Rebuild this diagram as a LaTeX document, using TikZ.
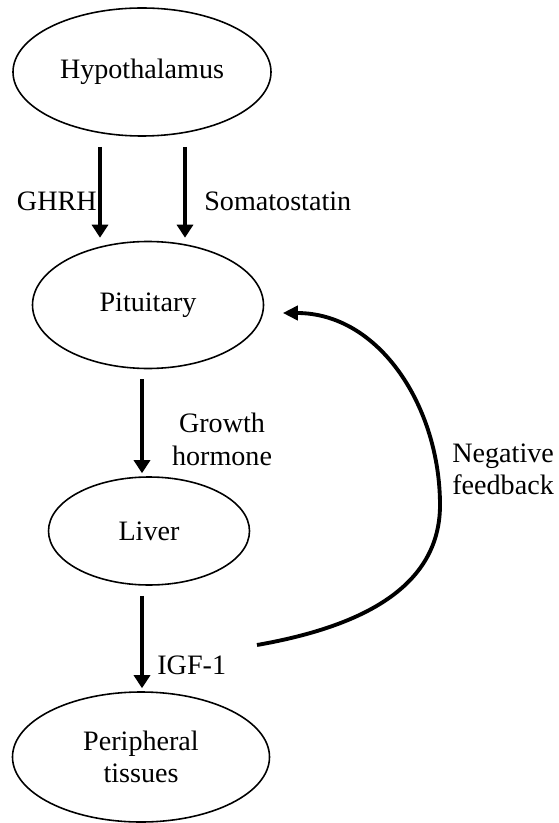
\documentclass[tikz,border=0pt]{standalone}
\usepackage{fontspec}
\setmainfont{Liberation Serif}
\usetikzlibrary{arrows.meta,shapes.geometric}

\begin{document}
\begin{tikzpicture}[
  font=\fontsize{16}{18.4}\selectfont,
  org/.style={draw, ellipse, line width=0.9pt, inner sep=0pt, align=center},
  lbl/.style={inner sep=0pt, align=center},
  arr/.style={line width=2.6pt, -{Triangle[length=0.26cm, width=0.32cm]},
              shorten <=0.2cm, shorten >=0.06cm},
  fbk/.style={line width=2.2pt, -{Triangle[length=0.3cm, width=0.28cm]}}
]
\useasboundingbox (0,0) rectangle (11.16,-16.46);

% organs
\node[org, minimum width=5.16cm, minimum height=2.56cm] (hyp) at (2.84,-1.44) {Hypothalamus};
\node[org, minimum width=4.62cm, minimum height=2.54cm] (pit) at (2.96,-6.10) {Pituitary};
\node[org, minimum width=4.02cm, minimum height=2.16cm] (liv) at (2.98,-10.62) {Liver};
\node[org, minimum width=5.14cm, minimum height=2.60cm] (per) at (2.82,-15.14) {Peripheral\\ tissues};

% hormones
\draw[arr] ([xshift=-0.84cm]hyp.south) -- ([xshift=-0.84cm]hyp.south |- pit.north);
\draw[arr] ([xshift=0.86cm]hyp.south) -- ([xshift=0.86cm]hyp.south |- pit.north);
\draw[arr] (pit.south -| hyp) -- (liv.north -| hyp);
\draw[arr] (liv.south -| hyp) -- (per.north -| hyp);

\node[lbl, anchor=east] (ghrh) at (1.94,-4.03) {GHRH};
\node[lbl, anchor=west] (som) at (4.08,-4.03) {Somatostatin};
\node[lbl] (gh) at (4.44,-8.79) {Growth\\ hormone};
\node[lbl, anchor=west] (igf) at (3.14,-13.31) {IGF-1};

% feedback loop
\coordinate (fb) at (5.14,-12.90);
\draw[fbk] (fb) to[out=10, in=-90] (8.80,-10.10)
  to[out=90, in=0] ([xshift=0.37cm, yshift=-0.16cm]pit.east);
\node[lbl, align=left, anchor=west] (fbl) at (9.04,-9.39) {Negative\\ feedback};
\end{tikzpicture}
\end{document}
